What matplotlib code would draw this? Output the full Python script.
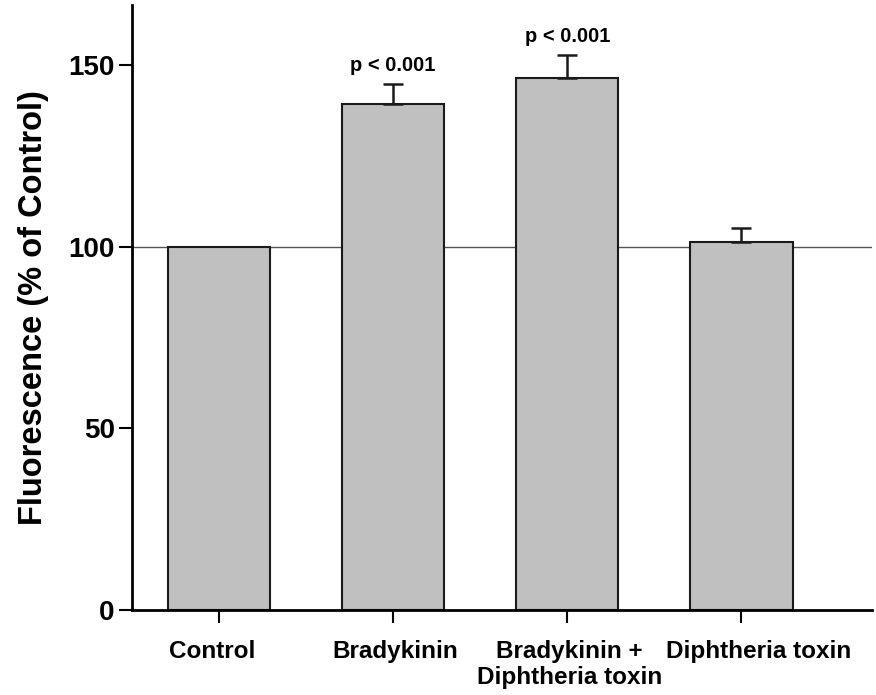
import matplotlib.pyplot as plt
import matplotlib.transforms as mtransforms
import numpy as np

plt.rcParams['font.family'] = ['Liberation Sans', 'DejaVu Sans']
plt.rcParams['font.weight'] = 'bold'

groups = ['Control', 'Bradykinin', 'Bradykinin +\nDiphtheria toxin', 'Diphtheria toxin']
fluor = [100.0, 139.2, 146.5, 101.3]
sem = [0.0, 5.6, 6.3, 3.8]
pvals = ['', 'p < 0.001', 'p < 0.001', '']

fig = plt.figure(figsize=(8.76, 6.95), dpi=100)
ax = fig.add_axes([0.1507, 0.1223, 0.8447, 0.8705])

x = np.arange(len(groups))
ax.axhline(100, color='#555555', lw=1.0, zorder=1)
ax.bar(x, fluor, width=0.588, color='#c0c0c0', edgecolor='#1a1a1a',
       linewidth=1.5, zorder=2)

# upper error bars only, skipped where there is no spread
has_err = np.array(sem) > 0
xe = x[has_err]
ye = np.array(fluor)[has_err]
se = np.array(sem)[has_err]
ax.errorbar(xe, ye, yerr=[np.zeros(len(se)), se], fmt='none', ecolor='#1a1a1a',
            elinewidth=1.8, capsize=7.5, capthick=1.8, zorder=3)

for xi, top, s, txt in zip(x, fluor, sem, pvals):
    if txt:
        ax.text(xi, top + s + 2.5, txt, ha='center', va='bottom',
                fontsize=14.5, fontweight='bold')

ax.set_xlim(-0.5, 3.75)
ax.set_ylim(0, 166.5)
ax.set_yticks([0, 50, 100, 150])
ax.set_xticks(x)
ax.set_xticklabels(groups, fontsize=17.5, fontweight='bold', linespacing=1.2)
ax.tick_params(axis='y', labelsize=20, length=9.5, width=1.5, direction='out', pad=3)
ax.tick_params(axis='x', length=9.5, width=1.5, direction='out', pad=12)
for lbl in ax.get_yticklabels():
    lbl.set_fontweight('bold')

# nudge the category labels sideways so the long ones don't run together
nudge_px = [-7, 2, 2, 17]
for lbl, dx in zip(ax.get_xticklabels(), nudge_px):
    shift = mtransforms.ScaledTranslation(dx / 100, 0, fig.dpi_scale_trans)
    lbl.set_transform(lbl.get_transform() + shift)

ax.spines['top'].set_visible(False)
ax.spines['right'].set_visible(False)
ax.spines['left'].set_linewidth(2)
ax.spines['bottom'].set_linewidth(2)

ax.set_ylabel('Fluorescence (% of Control)', fontsize=23.5, fontweight='bold', labelpad=14)

fig.savefig('out.png', dpi=100)
